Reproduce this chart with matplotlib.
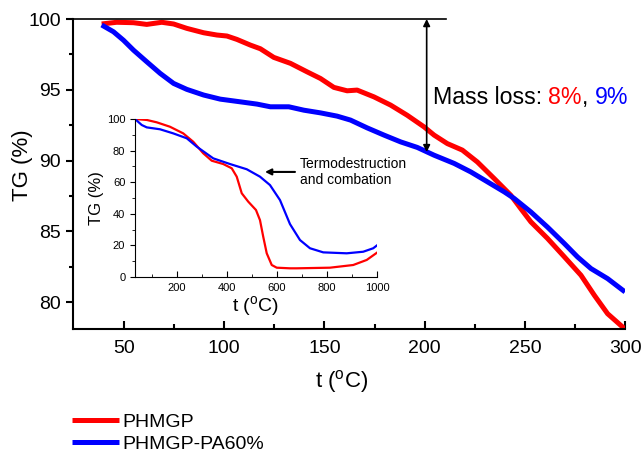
import numpy as np
import matplotlib.pyplot as plt

plt.rcParams['font.family'] = ['Liberation Sans', 'DejaVu Sans']
plt.rcParams['mathtext.default'] = 'regular'

# main plot (TG, %) 
t_red = [38.8, 46.3, 54.7, 61.3, 68.8, 74.7, 81.3, 89.7, 96.3, 101.3, 106.3, 113, 118, 124.7, 133, 141.3,
         148, 154.7, 161.3, 166.3, 174.7, 183, 191.3, 199.7, 204.7, 211.3, 218.8, 226.3, 234.7, 243, 248,
         253, 261.3, 269.7, 278, 284.7, 291.3, 299.7]
tg_red = [99.65, 99.77, 99.74, 99.62, 99.77, 99.65, 99.34, 99.03, 98.87, 98.8, 98.56, 98.16, 97.9, 97.29,
          96.87, 96.27, 95.8, 95.17, 94.93, 94.98, 94.5, 93.92, 93.2, 92.38, 91.8, 91.2, 90.74, 89.9, 88.73,
          87.55, 86.6, 85.67, 84.5, 83.2, 81.9, 80.48, 79.18, 78.13]
t_blue = [38.8, 44.7, 49.7, 54.7, 61.3, 68, 74.7, 81.3, 89.7, 98, 108, 116.3, 123, 132.2, 139.7, 148,
          156.3, 163, 171.3, 179.7, 188, 196.3, 204.7, 214.7, 223, 231.3, 239.7, 244.7, 253, 261.3, 269.7,
          276.3, 283, 291.3, 300]
tg_blue = [99.58, 99.1, 98.5, 97.8, 96.98, 96.16, 95.45, 95.03, 94.63, 94.34, 94.15, 93.99, 93.8, 93.8,
           93.56, 93.37, 93.14, 92.86, 92.31, 91.8, 91.32, 90.93, 90.38, 89.8, 89.2, 88.5, 87.79, 87.32,
           86.37, 85.3, 84.14, 83.19, 82.37, 81.66, 80.72]

# inset (full range)
ti_red = [32, 79, 119, 172, 225, 265, 305, 339, 385, 419, 439, 459, 485, 516, 532, 545, 559, 579, 599,
          652, 679, 812, 905, 959, 1000]
tgi_red = [100, 99.4, 97.9, 95.1, 90.9, 85.6, 78.3, 73.6, 71.5, 68.8, 63.5, 53, 47.7, 42.4, 36, 25.5, 15,
           7.6, 5.9, 5.5, 5.5, 5.9, 7.6, 10.8, 15.4]
ti_blue = [32, 59, 79, 132, 185, 239, 279, 345, 412, 479, 532, 572, 612, 652, 692, 732, 785, 879, 945,
           985, 1000]
tgi_blue = [100, 96.2, 94.7, 93.5, 90.9, 87.8, 82.5, 75.1, 71.5, 68.2, 63.5, 58.2, 48.7, 33.5, 23.4, 18.2,
            15.6, 15, 16, 18.2, 20]

labels = ['PHMGP', 'PHMGP-PA60%']

fig = plt.figure(figsize=(6.41, 4.53), dpi=100)
ax = fig.add_axes([0.1139, 0.2737, 0.8612, 0.6843])
l1, = ax.plot(t_red, tg_red, color='#ff0000', lw=3.6, solid_capstyle='butt')
l2, = ax.plot(t_blue, tg_blue, color='#0000ff', lw=3.6, solid_capstyle='butt')
ax.set_xlim(24.5, 300)
ax.set_ylim(78.1, 100)
ax.set_xticks([50, 100, 150, 200, 250, 300])
ax.set_xticks([75, 125, 175, 225, 275], minor=True)
ax.set_yticks([80, 85, 90, 95, 100])
ax.set_yticks([82.5, 87.5, 92.5, 97.5], minor=True)
ax.spines['top'].set_visible(False)
ax.spines['right'].set_visible(False)
for s in ['left', 'bottom']:
    ax.spines[s].set_linewidth(1.5)
ax.tick_params(axis='x', which='both', direction='in', width=1.5, labelsize=14, pad=8)
ax.tick_params(axis='x', which='major', length=6)
ax.tick_params(axis='x', which='minor', length=3.5)
ax.tick_params(axis='y', which='both', direction='out', width=1.5, labelsize=14)
ax.tick_params(axis='y', which='major', length=5)
ax.tick_params(axis='y', which='minor', length=3)
ax.set_xlabel('t ($^o$C)', fontsize=16)
ax.set_ylabel('TG (%)', fontsize=16)
ax.xaxis.set_label_coords(0.486, -0.125)
ax.yaxis.set_label_coords(-0.073, 0.53)

ax.plot([24.5, 210.5], [100, 100], color='black', lw=1.2, clip_on=False)
ax.annotate('', xy=(201, 100), xytext=(201, 90.6),
            arrowprops=dict(arrowstyle='<|-|>', color='black', lw=1.2, mutation_scale=10, shrinkA=0, shrinkB=0))
ax.text(204, 94.45, 'Mass loss: ', fontsize=16.7, va='center', ha='left')
ax.annotate('8%', xy=(1, 0.5), xycoords=ax.texts[-1], fontsize=16.7, color='#ff0000', va='center', ha='left')
ax.annotate(', ', xy=(1, 0.5), xycoords=ax.texts[-1], fontsize=16.7, color='black', va='center', ha='left')
ax.annotate('9%', xy=(1, 0.5), xycoords=ax.texts[-1], fontsize=16.7, color='#0000ff', va='center', ha='left')

# inset
ins = fig.add_axes([0.2106, 0.3885, 0.3775, 0.3488])
ins.plot(ti_red, tgi_red, color='#ff0000', lw=1.6)
ins.plot(ti_blue, tgi_blue, color='#0000ff', lw=1.6)
ins.set_xlim(32, 1000)
ins.set_ylim(0, 100)
ins.set_xticks([200, 400, 600, 800, 1000])
ins.set_xticks([100, 300, 500, 700, 900], minor=True)
ins.set_yticks([0, 20, 40, 60, 80, 100])
ins.set_yticks([10, 30, 50, 70, 90], minor=True)
ins.spines['top'].set_visible(False)
ins.spines['right'].set_visible(False)
ins.patch.set_alpha(0)
ins.tick_params(axis='x', which='both', direction='in', labelsize=8, pad=4)
ins.tick_params(axis='x', which='major', length=4)
ins.tick_params(axis='x', which='minor', length=2.5)
ins.tick_params(axis='y', which='both', direction='out', labelsize=8)
ins.tick_params(axis='y', which='major', length=3.5)
ins.tick_params(axis='y', which='minor', length=2)
ins.set_xlabel('t ($^o$C)', fontsize=14, labelpad=1)
ins.set_ylabel('TG (%)', fontsize=12, labelpad=2)
ins.annotate('', xy=(552, 66.5), xytext=(672, 66.5),
             arrowprops=dict(arrowstyle='-|>', color='black', lw=1.5, mutation_scale=9, shrinkA=0, shrinkB=0))
ins.text(692, 66.5, 'Termodestruction\nand combation', fontsize=10, va='center', ha='left',
         linespacing=1.2, clip_on=False)

fig.legend([l1, l2], labels, loc='upper left', bbox_to_anchor=(0.1, 0.104), frameon=False,
           fontsize=14, handlelength=2.4, handletextpad=0.2, labelspacing=0.22, borderaxespad=0)

fig.savefig('out.png', dpi=100)
